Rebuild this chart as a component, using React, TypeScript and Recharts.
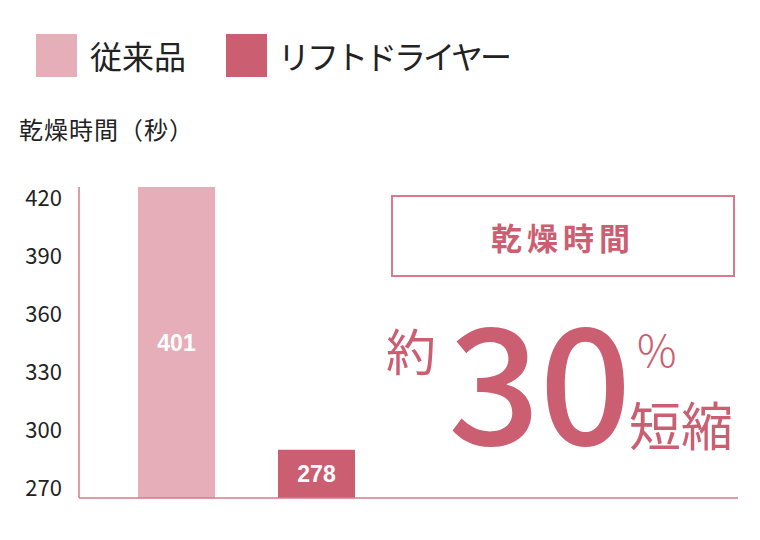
import React from 'react';
import { BarChart, Bar, XAxis, YAxis, Cell, LabelList } from 'recharts';

// categories and values
const products = ['従来品', 'リフトドライヤー'];
const dryingSeconds = [401, 278];
// heights the bars are drawn at in the original graphic (not to scale with the labels)
const drawnHeights = [426, 290];
const yTicks = [270, 300, 330, 360, 390, 420];
const colors = ['#e6aeb8', '#cc5e72'];

const data = products.map((name, i) => ({
    name,
    height: drawnHeights[i],
    seconds: dryingSeconds[i],
}));

const FONT = '"Noto Sans CJK JP", "Noto Sans", sans-serif';
const ACCENT = '#cc5e72';
const AXIS = '#d9798c';

const App: React.FC = () => {
    return (
        <div style={{ position: 'absolute', left: 0, top: 0, width: 760, height: 540, fontFamily: FONT, background: '#fff' }}>
            {/* legend */}
            <div style={{ position: 'absolute', left: 36, top: 34, display: 'flex', alignItems: 'center' }}>
                {products.map((p, i) => (
                    <div key={p} style={{ display: 'flex', alignItems: 'center', marginRight: i === 0 ? 40 : 0 }}>
                        <div style={{ width: 41, height: 43, background: colors[i], marginRight: i === 0 ? 13 : 11 }} />
                        <span style={{ fontSize: 32, color: '#222', lineHeight: '43px', letterSpacing: i === 0 ? 0 : -3 }}>{p}</span>
                    </div>
                ))}
            </div>

            <div style={{ position: 'absolute', left: 19, top: 114, fontSize: 24, color: '#222', lineHeight: '30px', letterSpacing: 1 }}>
                乾燥時間（秒）
            </div>

            <BarChart
                width={760}
                height={540}
                data={data}
                margin={{ top: 187, right: 22, left: 0, bottom: 40 }}
            >
                <XAxis
                    dataKey="name"
                    tick={false}
                    tickLine={false}
                    height={2}
                    axisLine={{ stroke: AXIS, strokeWidth: 1.5 }}
                    padding={{ left: 27, right: 352 }}
                />
                <YAxis
                    type="number"
                    domain={[265, 426]}
                    ticks={yTicks}
                    width={79}
                    tickSize={0}
                    tickMargin={17}
                    tickLine={false}
                    axisLine={{ stroke: AXIS, strokeWidth: 1.5 }}
                    tick={{ fontSize: 22, fill: '#222', fontFamily: FONT }}
                    allowDataOverflow
                />
                <Bar dataKey="height" barSize={77} isAnimationActive={false}>
                    {data.map((d, i) => (
                        <Cell key={d.name} fill={colors[i]} />
                    ))}
                    <LabelList
                        dataKey="seconds"
                        position="center"
                        fill="#fff"
                        style={{ fontSize: 23, fontWeight: 700, fontFamily: '"Liberation Sans", Arial, sans-serif' }}
                    />
                </Bar>
            </BarChart>

            {/* annotation */}
            <div style={{
                position: 'absolute', left: 391, top: 195, width: 340, height: 78,
                border: `2px solid ${AXIS}`, display: 'flex', alignItems: 'center', justifyContent: 'center',
            }}>
                <span style={{ fontSize: 31, fontWeight: 700, color: ACCENT, letterSpacing: 5 }}>乾燥時間</span>
            </div>
            <div style={{ position: 'absolute', left: 386, top: 314, fontSize: 50, color: ACCENT, lineHeight: '70px' }}>約</div>
            <div style={{ position: 'absolute', left: 448, top: 276, fontSize: 162, fontWeight: 500, color: ACCENT, lineHeight: '198px' }}>
                <span style={{ letterSpacing: -1 }}>3</span>0
            </div>
            <div style={{ position: 'absolute', left: 637, top: 320, fontSize: 44, fontWeight: 300, color: ACCENT, lineHeight: '56px' }}>%</div>
            <div style={{ position: 'absolute', left: 629, top: 389, fontSize: 52, color: ACCENT, lineHeight: '70px' }}>短縮</div>
        </div>
    );
};

export default App;
